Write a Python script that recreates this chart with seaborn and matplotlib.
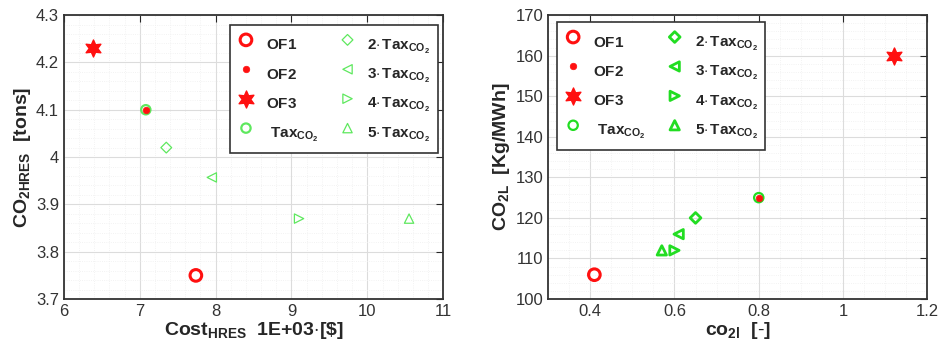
import numpy as np
import pandas as pd
import matplotlib
matplotlib.use('Agg')
import matplotlib.pyplot as plt
import seaborn as sns

# series names and values
series = ['OF1', 'OF2', 'OF3', 'Tax', '2Tax', '3Tax', '4Tax', '5Tax']
cost_hres = [7.74, 7.08, 6.38, 7.08, 7.35, 7.95, 9.10, 10.55]   # x1e3 $
co2_hres = [3.75, 4.10, 4.23, 4.10, 4.02, 3.957, 3.87, 3.87]    # tons
co2_l_ratio = [0.41, 0.80, 1.12, 0.80, 0.65, 0.61, 0.60, 0.57]  # [-]
co2_l = [106, 125, 160, 125, 120, 116, 112, 112]                # kg/MWh

labels = {
    'OF1': r'$\mathbf{OF1}$',
    'OF2': r'$\mathbf{OF2}$',
    'OF3': r'$\mathbf{OF3}$',
    'Tax': r'$\mathbf{\ Tax_{CO_2}}$',
    '2Tax': r'$\mathbf{2{\cdot}\,Tax_{CO_2}}$',
    '3Tax': r'$\mathbf{3{\cdot}\,Tax_{CO_2}}$',
    '4Tax': r'$\mathbf{4{\cdot}\,Tax_{CO_2}}$',
    '5Tax': r'$\mathbf{5{\cdot}\,Tax_{CO_2}}$',
}

df = pd.DataFrame({'series': series, 'cost': cost_hres, 'co2': co2_hres,
                   'ratio': co2_l_ratio, 'co2l': co2_l})

sns.set_style('white')
plt.rcParams['font.family'] = ['Liberation Sans', 'DejaVu Sans']
plt.rcParams['mathtext.fontset'] = 'custom'
plt.rcParams['mathtext.rm'] = 'Liberation Sans'
plt.rcParams['mathtext.bf'] = 'Liberation Sans:bold'
plt.rcParams['mathtext.it'] = 'Liberation Sans:italic'

red = '#ff1010'
star6 = (6, 1, 0)


def styles(green, lw):
    # marker, size, face, edge, linewidth
    return {
        'OF1': ('o', 70, 'none', red, 2.2),
        'OF2': ('o', 22, red, red, 0.5),
        'OF3': (star6, 150, red, red, 1.0),
        'Tax': ('o', 45, 'none', green, 1.6),
        '2Tax': ('D', 30, 'none', green, lw),
        '3Tax': ('<', 45, 'none', green, lw),
        '4Tax': ('>', 45, 'none', green, lw),
        '5Tax': ('^', 45, 'none', green, lw),
    }


# order: Tax circle drawn before OF2 dot so the dot sits inside
draw_order = ['OF1', 'Tax', 'OF2', 'OF3', '2Tax', '3Tax', '4Tax', '5Tax']
legend_order = ['OF1', 'OF2', 'OF3', 'Tax', '2Tax', '3Tax', '4Tax', '5Tax']

fig = plt.figure(figsize=(9.39, 3.51), dpi=100)
ax1 = fig.add_axes([0.068, 0.148, 0.404, 0.809])
ax2 = fig.add_axes([0.5836, 0.148, 0.404, 0.809])


def draw(ax, xcol, ycol, st):
    handles = {}
    for s in draw_order:
        m, size, fc, ec, lw = st[s]
        sns.scatterplot(data=df[df['series'] == s], x=xcol, y=ycol, ax=ax,
                        marker=m, s=size, facecolor=fc, edgecolor=ec,
                        linewidth=lw, zorder=3)
        handles[s] = ax.collections[-1]
    return [handles[s] for s in legend_order]


def style_axes(ax):
    ax.minorticks_on()
    ax.grid(True, which='major', color='#dcdcdc', linewidth=0.8)
    ax.grid(True, which='minor', color='#efefef', linewidth=0.6, linestyle=':')
    ax.tick_params(which='both', direction='in', top=True, right=True,
                   labelsize=12, colors='#262626')
    ax.tick_params(which='minor', length=0)
    ax.tick_params(which='major', length=5)
    for t in ax.get_xticklabels() + ax.get_yticklabels():
        t.set_color('#333333')
    for sp in ax.spines.values():
        sp.set_color('#333333')
        sp.set_linewidth(1.3)
    ax.set_axisbelow(True)


def add_legend(ax, handles, loc, anchor):
    # tall handle boxes so both columns get equal row heights
    leg = ax.legend(handles, [labels[s] for s in legend_order], ncol=2,
                    loc=loc, bbox_to_anchor=anchor,
                    fontsize=11, fancybox=False, edgecolor='#333333',
                    framealpha=1, handlelength=1.2, handleheight=2.2,
                    handletextpad=0.7, columnspacing=1.3, labelspacing=0.25,
                    borderpad=0.45, borderaxespad=0)
    leg.get_frame().set_linewidth(1.2)
    return leg


# left panel
h1 = draw(ax1, 'cost', 'co2', styles('#5ee85e', 0.9))
ax1.set_xlim(6, 11)
ax1.set_ylim(3.7, 4.3)
ax1.set_xticks([6, 7, 8, 9, 10, 11])
ax1.set_xticklabels(['6', '7', '8', '9', '10', '11'])
ax1.set_yticks([3.7, 3.8, 3.9, 4.0, 4.1, 4.2, 4.3])
ax1.set_yticklabels(['3.7', '3.8', '3.9', '4', '4.1', '4.2', '4.3'])
style_axes(ax1)
ax1.set_xlabel(r'$\mathbf{Cost_{HRES}\ \ 1E{+}03{\cdot}[\$]}$', fontsize=14,
               color='#262626', labelpad=1)
ax1.set_ylabel(r'$\mathbf{CO_{2HRES}\ \ [tons]}$', fontsize=14,
               color='#262626', labelpad=2)
add_legend(ax1, h1, 'upper right', (0.985, 0.965))

# right panel
h2 = draw(ax2, 'ratio', 'co2l', styles('#22dd22', 2.0))
ax2.set_xlim(0.3, 1.2)
ax2.set_ylim(100, 170)
ax2.set_xticks([0.4, 0.6, 0.8, 1.0, 1.2])
ax2.set_xticklabels(['0.4', '0.6', '0.8', '1', '1.2'])
ax2.set_yticks([100, 110, 120, 130, 140, 150, 160, 170])
style_axes(ax2)
ax2.set_xlabel(r'$\mathbf{co_{2l}\ \ [\text{-}]}$', fontsize=14,
               color='#262626', labelpad=1)
ax2.set_ylabel(r'$\mathbf{CO_{2L}\ \ [Kg/MWh]}$', fontsize=14,
               color='#262626', labelpad=2)
add_legend(ax2, h2, 'upper left', (0.024, 0.975))

fig.savefig('out.png', dpi=100)
